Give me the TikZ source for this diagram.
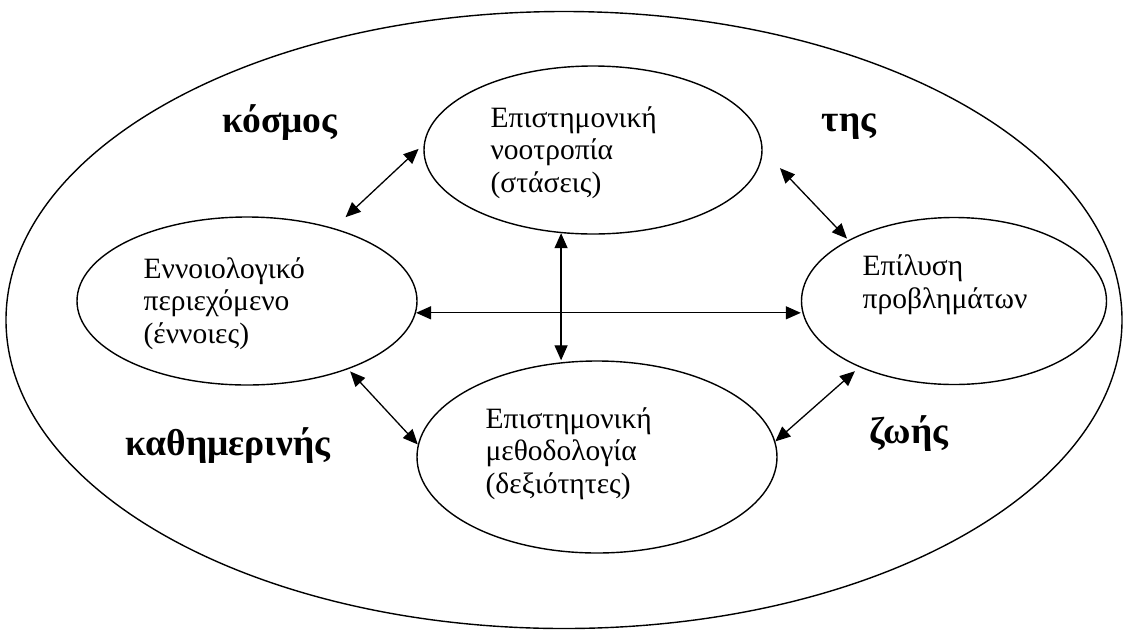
\documentclass[tikz,border=0pt]{standalone}
\usepackage{fontspec}
\setmainfont{Liberation Serif}
\usetikzlibrary{positioning, arrows.meta, shapes.geometric}
\tikzset{
  >={Triangle[length=15pt,width=13pt]},
  bubble/.style={draw, ellipse, line width=1.4pt, inner sep=0pt},
  bubtext/.style={font=\fontsize{29.5}{32.5}\selectfont, align=left, inner sep=0pt, anchor=base west},
  boldword/.style={font=\fontsize{37.5}{38}\selectfont\bfseries, inner sep=0pt, anchor=base},
}

\begin{document}
\begin{tikzpicture}[x=1pt, y=-1pt, line width=1.3pt]
  \useasboundingbox (0,0) rectangle (1127,630);
  \node[bubble, minimum width=1116pt, minimum height=617pt] (world) at (564,320) {};
  \node[bubble, minimum width=338pt, minimum height=168pt] (att) at (593,150) {};
  \node[bubble, minimum width=340pt, minimum height=168pt] (con) at (247,301) {};
  \node[bubble, minimum width=305pt, minimum height=167pt] (prob) at (954,301) {};
  \node[bubble, minimum width=360pt, minimum height=192pt] (meth) at (597,457) {};

  \node[bubtext] (att txt) at (490,192) {Επιστημονική\\νοοτροπία\\(στάσεις)};
  \node[bubtext] (con txt) at (143,343) {Εννοιολογικό\\περιεχόμενο\\(έννοιες)};
  \node[bubtext] (prob txt) at (862,308) {Επίλυση\\προβλημάτων};
  \node[bubtext] (meth txt) at (485,493) {Επιστημονική\\μεθοδολογία\\(δεξιότητες)};

  \node[boldword] (w1) at (280,132) {κόσμος};
  \node[boldword] (w2) at (849,131) {της};
  \node[boldword] (w3) at (228,455) {καθημερινής};
  \node[boldword] (w4) at (909,443) {ζωής};

  \draw[<->, shorten <=16pt, shorten >=7pt] (con.40) -- (att.178);
  \draw[<->, shorten <=25pt, shorten >=2pt] (att.0) -- (prob.150);
  \draw[<->] (con.-4) -- (con.-4 -| prob.west);
  \draw[<->] (att.249) -- (att.249 |- meth.north);
  \draw[<->, shorten <=3pt] (con.-34) -- (meth.176);
  \draw[<->, shorten <=6pt] (prob.215) -- (meth.5);
\end{tikzpicture}
\end{document}
